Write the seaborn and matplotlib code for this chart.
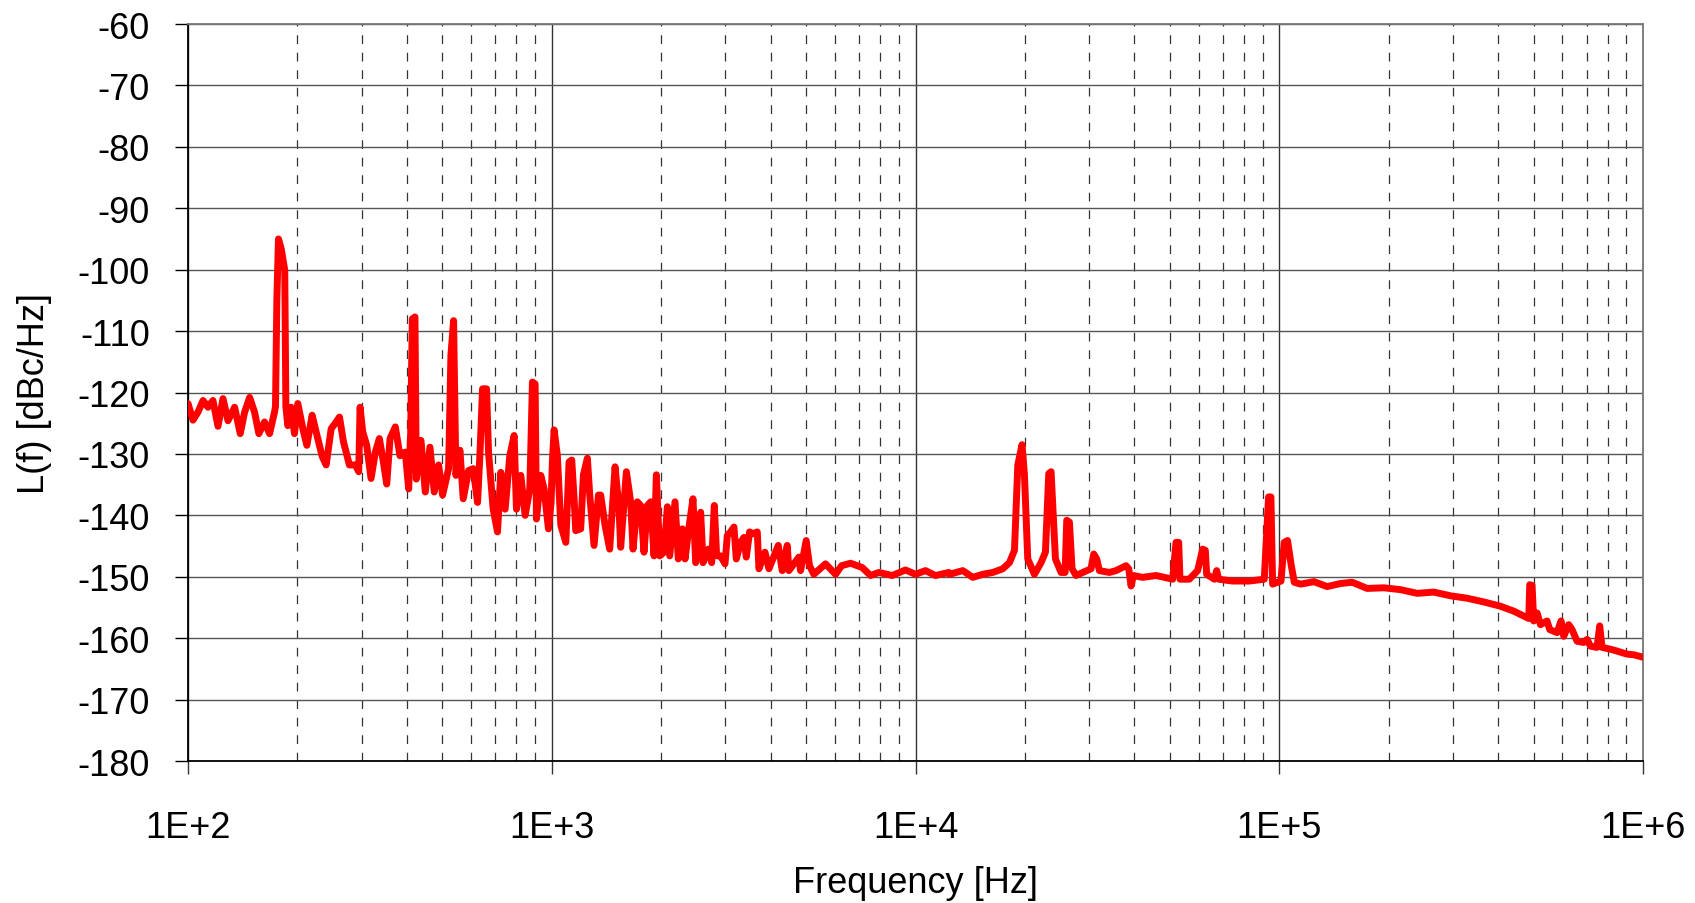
import matplotlib
matplotlib.use("Agg")
import matplotlib.pyplot as plt
import matplotlib.ticker as mticker
import seaborn as sns
import pandas as pd

# ---- data ----
freq_hz = [
    100, 103.2, 106.5, 110, 113.5, 117.1, 120.9, 124.8, 128.8, 134.3, 139.2, 143.1, 147.7,
    152.4, 156.6, 162.3, 167.6, 172.9, 174, 175.5, 177.3, 180.4, 184.5, 185.8, 188.1, 192.1,
    196.2, 200.4, 206.9, 212.2, 219.4, 225.0, 233.8, 239.8, 247.5, 255.4, 260.9, 267.5, 277.8,
    288.6, 294.7, 297.2, 302.2, 310, 318.6, 327.4, 335.8, 344.4, 351.8, 359.3, 371.5, 382.6,
    395.7, 404.3, 409.4, 413.7, 420.7, 424.3, 437, 449.1, 462.5, 475.3, 488.6, 501.1, 520.5,
    528.2, 537.2, 545.2, 559.2, 571, 590.6, 608.3, 625.2, 634.5, 645.3, 661.8, 670.2, 690.2,
    709.4, 724.4, 744.5, 766.8, 788.1, 799.8, 822.1, 845, 870.3, 885, 900.1, 907.7, 932.9,
    952.8, 979.2, 995.8, 1004,
    1015, 1036, 1059, 1093, 1116, 1135, 1152, 1164, 1201, 1222, 1253, 1272, 1307, 1344, 1363,
    1401, 1443, 1493, 1531, 1547, 1604, 1648, 1673, 1719, 1756, 1793, 1832, 1871, 1911, 1939,
    1981, 2035, 2079, 2110, 2182, 2228, 2286, 2325, 2384, 2445, 2487, 2567, 2605, 2694, 2752,
    2798, 2840, 2913, 2994, 3038, 3103, 3169, 3216, 3305, 3376, 3426, 3499, 3574, 3673, 3712,
    3856, 3955, 4195, 4302, 4440, 4487, 4780, 4831, 5006, 5113, 5255, 5657, 6029, 6262, 6631,
    7137, 7523, 7930, 8628, 9387, 10000, 10653, 11348, 12351,
    12400, 13490, 14370, 15310, 16310, 17380, 18130, 18710, 19110, 19630, 19930, 20350, 21230,
    22140, 22760, 23250, 23590, 24250, 25130, 25780, 26050, 26490, 26940, 27630, 28820, 30380,
    30900, 31490, 32030, 34120, 35590, 37920, 38560, 39140, 39720, 42120, 45840, 50930, 52020,
    52910, 53350, 56570, 59650, 61570, 62620, 63150, 66310, 67290, 68130, 74430, 82730, 90950,
    93480, 94870, 95880, 101100, 103200, 105400, 107700, 110000,
    114500, 124500, 135400, 147400, 158700, 174500, 193900, 215400, 239400, 266000, 295600,
    328500, 365000, 405600, 441200, 470000, 485200, 488300, 495500, 500700, 511600, 522500,
    544800, 554100, 580200, 595200, 605400, 624800, 638100, 658700, 687100, 702000, 716800,
    747500, 760300, 771700, 813600, 848700, 903600, 942800, 1000000,
]
level_dbc = [
    -121.8, -124.5, -123.2, -121.3, -122.4, -121.3, -125.5, -121.0, -124.6, -122.4, -126.7, -123.2, -120.8,
    -123.2, -126.7, -124.8, -126.7, -123.2, -122.3, -104.9, -95.0, -96.6, -100.1, -122.3, -125.4, -122.4,
    -126.7, -121.8, -125.9, -128.6, -123.7, -126.4, -130.4, -131.8, -125.9, -124.8, -124.0, -128.0, -131.8,
    -131.8, -132.9, -122.4, -126.4, -128.6, -134.0, -129.7, -127.5, -131.3, -134.9, -127.5, -125.6, -130.3,
    -129.7, -135.7, -126.5, -108.0, -107.7, -134.1, -127.8, -136.2, -128.9, -136.2, -131.8, -136.7, -132.4,
    -113.9, -108.3, -133.5, -129.4, -137.3, -132.7, -132.4, -137.9, -130.3, -119.4, -119.4, -129.7, -139.0,
    -142.7, -133.0, -139.0, -130.3, -127.0, -139.0, -133.5, -140.0, -135.7, -118.3, -118.6, -140.6, -133.5,
    -135.7, -142.2, -137.9, -131.3,
    -126.1, -130.2, -141.6, -144.4, -131.3, -131.0, -137.3, -142.5, -142.2, -133.4, -130.7, -136.7, -144.9, -136.7, -136.7,
    -141.6, -145.5, -132.1, -138.9, -145.2, -132.9, -137.8, -145.5, -137.8, -138.4, -146.0, -138.4, -137.8, -146.6, -133.4,
    -146.6, -146.0, -138.6, -146.6, -137.8, -147.1, -142.2, -147.1, -141.9, -137.3, -147.7, -139.5, -147.7, -145.5, -147.7,
    -138.4, -146.6, -146.6, -147.9, -143.3, -142.7, -141.9, -147.1, -144.4, -143.6, -146.8, -142.7, -143.0, -142.7, -148.7,
    -146.0, -148.7, -144.9, -149.0, -144.9, -149.0, -146.8, -149.0, -144.1, -148.2, -149.6, -147.9, -149.6, -148.2, -147.8,
    -148.5, -149.8, -149.3, -149.8, -148.9, -149.6, -149.0, -149.8, -149.3,
    -149.6, -149.0, -150.1, -149.6, -149.3, -148.7, -147.7, -145.7, -131.8, -128.5, -133.4, -147.1, -149.6,
    -147.7, -146.0, -133.2, -132.9, -147.1, -149.3, -149.3, -140.8, -141.1, -148.7, -149.8, -149.3, -148.7,
    -146.3, -147.1, -149.0, -149.3, -149.0, -148.2, -148.7, -151.5, -149.8, -150.1, -149.8, -150.4, -144.4,
    -144.4, -150.4, -150.4, -149.0, -145.5, -145.7, -149.6, -150.4, -149.0, -150.4, -150.7, -150.7, -150.4,
    -137.0, -137.0, -151.2, -150.7, -144.4, -144.1, -147.9, -150.9,
    -151.2, -150.8, -151.6, -151.1, -150.9, -151.9, -151.8, -152.1, -152.7, -152.5, -153.1,
    -153.5, -154.1, -154.8, -155.6, -156.4, -156.8, -151.3, -151.4, -157.2, -155.9, -157.8,
    -157.2, -158.6, -159.1, -157.2, -159.7, -157.8, -158.6, -160.5, -160.7, -160.2, -161.3,
    -161.5, -158.0, -161.5, -161.8, -162.1, -162.6, -162.7, -163.1,
]
x_ticks = [1e2, 1e3, 1e4, 1e5, 1e6]
x_tick_labels = ["1E+2", "1E+3", "1E+4", "1E+5", "1E+6"]
y_ticks = list(range(-180, -50, 10))
y_tick_labels = [str(v) for v in y_ticks]

df = pd.DataFrame({"Frequency [Hz]": freq_hz, "L(f) [dBc/Hz]": level_dbc})

sns.set_style("white")
plt.rcParams["font.family"] = ["Liberation Sans", "DejaVu Sans"]
plt.rcParams["text.color"] = "black"
plt.rcParams["axes.labelcolor"] = "black"
plt.rcParams["xtick.color"] = "black"
plt.rcParams["ytick.color"] = "black"

fig = plt.figure(figsize=(16.95, 9.04), dpi=100)
ax = fig.add_axes([188 / 1695, 1 - 762 / 904, (1643 - 188) / 1695, (762 - 25) / 904])
ax.set_xscale("log")

sns.lineplot(data=df, x="Frequency [Hz]", y="L(f) [dBc/Hz]", ax=ax,
             estimator=None, sort=False, color="#ff0000", linewidth=5.0,
             solid_joinstyle="round", solid_capstyle="round", zorder=5)

ax.set_xlim(1e2, 1e6)
ax.set_ylim(-180, -60)

ax.xaxis.set_major_locator(mticker.FixedLocator(x_ticks))
ax.xaxis.set_major_formatter(mticker.FixedFormatter(x_tick_labels))
ax.xaxis.set_minor_locator(mticker.LogLocator(base=10, subs=[2, 3, 4, 5, 6, 7, 8, 9], numticks=20))
ax.xaxis.set_minor_formatter(mticker.NullFormatter())
ax.yaxis.set_major_locator(mticker.FixedLocator(y_ticks))
ax.yaxis.set_major_formatter(mticker.FixedFormatter(y_tick_labels))

ax.grid(which="major", axis="y", color="#555555", linewidth=1.0, linestyle="-")
ax.grid(which="major", axis="x", color="#333333", linewidth=1.0, linestyle="-")
ax.grid(which="minor", axis="x", color="#333333", linewidth=0.9, linestyle=(0, (7, 7)))

ax.tick_params(axis="y", which="major", direction="out", length=9.5, width=1.0,
               colors="black", labelsize=26, pad=18, left=True)
ax.tick_params(axis="x", which="major", direction="out", length=9.5, width=1.0,
               color="#333333", labelcolor="black", labelsize=26, pad=26, bottom=True)
ax.tick_params(axis="x", which="minor", length=0)

for side in ["left", "bottom"]:
    ax.spines[side].set_color("black")
    ax.spines[side].set_linewidth(1.3)
for side in ["top", "right"]:
    ax.spines[side].set_color("#777777")
    ax.spines[side].set_linewidth(1.3)

ax.set_xlabel("Frequency [Hz]", fontsize=26, labelpad=14, color="black")
ax.set_ylabel("L(f) [dBc/Hz]", fontsize=26, labelpad=18, color="black")

fig.savefig("out.png", dpi=100)
